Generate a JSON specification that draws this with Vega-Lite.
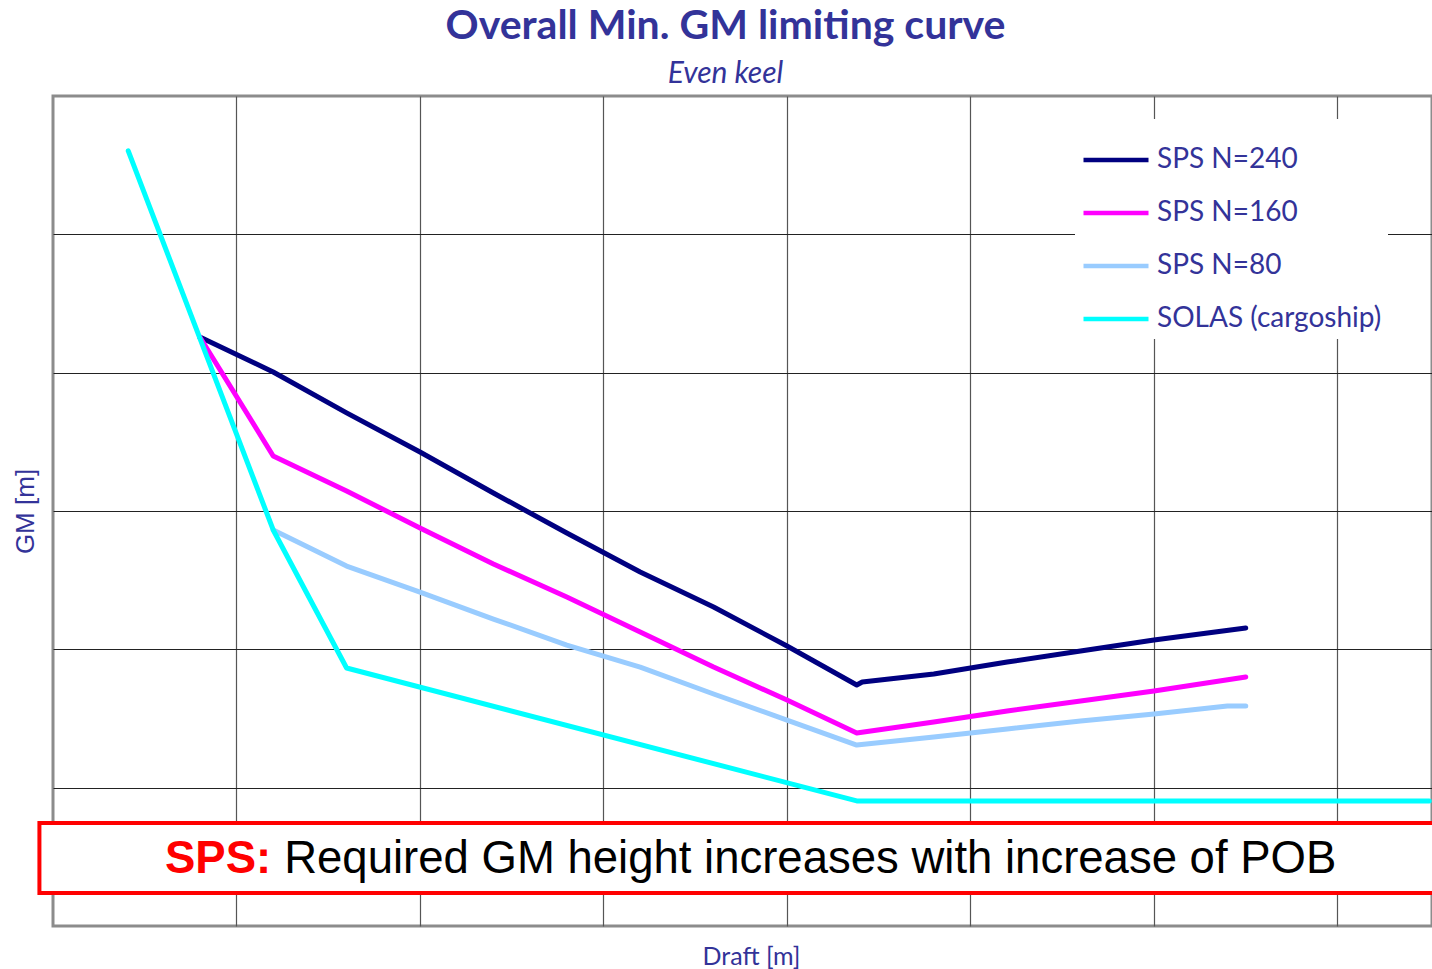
{
  "$schema": "https://vega.github.io/schema/vega-lite/v6.json",
  "width": 1379,
  "height": 830,
  "autosize": {"type": "none"},
  "padding": {"left": 53, "top": 96, "right": 0, "bottom": 43},
  "background": "white",
  "title": {
    "text": "Overall Min. GM limiting curve",
    "subtitle": "Even keel",
    "anchor": "middle",
    "dx": -17,
    "font": "Lato",
    "fontSize": 41,
    "fontWeight": "bold",
    "color": "#333399",
    "subtitleFont": "Lato",
    "subtitleFontStyle": "italic",
    "subtitleFontSize": 30,
    "subtitleColor": "#333399",
    "subtitlePadding": 11,
    "offset": 6
  },
  "config": {"view": {"stroke": "#8c8c8c", "strokeWidth": 3}},
  "layer": [
    {
      "data": {"values": [
        {"series": "SPS N=240", "draft": 0.8, "gm": 4.258},
        {"series": "SPS N=240", "draft": 1.2, "gm": 4.005},
        {"series": "SPS N=240", "draft": 1.6, "gm": 3.709},
        {"series": "SPS N=240", "draft": 2.0, "gm": 3.427},
        {"series": "SPS N=240", "draft": 2.4, "gm": 3.130},
        {"series": "SPS N=240", "draft": 2.8, "gm": 2.841},
        {"series": "SPS N=240", "draft": 3.2, "gm": 2.559},
        {"series": "SPS N=240", "draft": 3.6, "gm": 2.306},
        {"series": "SPS N=240", "draft": 4.0, "gm": 2.024},
        {"series": "SPS N=240", "draft": 4.38, "gm": 1.742},
        {"series": "SPS N=240", "draft": 4.41, "gm": 1.764},
        {"series": "SPS N=240", "draft": 4.8, "gm": 1.822},
        {"series": "SPS N=240", "draft": 5.2, "gm": 1.908},
        {"series": "SPS N=240", "draft": 5.6, "gm": 1.988},
        {"series": "SPS N=240", "draft": 6.0, "gm": 2.068},
        {"series": "SPS N=240", "draft": 6.5, "gm": 2.154},
        {"series": "SPS N=160", "draft": 0.8, "gm": 4.258},
        {"series": "SPS N=160", "draft": 1.2, "gm": 3.398},
        {"series": "SPS N=160", "draft": 1.6, "gm": 3.145},
        {"series": "SPS N=160", "draft": 2.0, "gm": 2.877},
        {"series": "SPS N=160", "draft": 2.4, "gm": 2.617},
        {"series": "SPS N=160", "draft": 2.8, "gm": 2.378},
        {"series": "SPS N=160", "draft": 3.2, "gm": 2.125},
        {"series": "SPS N=160", "draft": 3.6, "gm": 1.872},
        {"series": "SPS N=160", "draft": 4.0, "gm": 1.634},
        {"series": "SPS N=160", "draft": 4.38, "gm": 1.395},
        {"series": "SPS N=160", "draft": 4.8, "gm": 1.475},
        {"series": "SPS N=160", "draft": 5.2, "gm": 1.554},
        {"series": "SPS N=160", "draft": 5.6, "gm": 1.627},
        {"series": "SPS N=160", "draft": 6.0, "gm": 1.699},
        {"series": "SPS N=160", "draft": 6.5, "gm": 1.800},
        {"series": "SPS N=80", "draft": 1.2, "gm": 2.863},
        {"series": "SPS N=80", "draft": 1.6, "gm": 2.602},
        {"series": "SPS N=80", "draft": 2.0, "gm": 2.414},
        {"series": "SPS N=80", "draft": 2.4, "gm": 2.219},
        {"series": "SPS N=80", "draft": 2.8, "gm": 2.031},
        {"series": "SPS N=80", "draft": 3.2, "gm": 1.872},
        {"series": "SPS N=80", "draft": 3.6, "gm": 1.677},
        {"series": "SPS N=80", "draft": 4.0, "gm": 1.489},
        {"series": "SPS N=80", "draft": 4.38, "gm": 1.308},
        {"series": "SPS N=80", "draft": 4.8, "gm": 1.366},
        {"series": "SPS N=80", "draft": 5.2, "gm": 1.424},
        {"series": "SPS N=80", "draft": 5.6, "gm": 1.482},
        {"series": "SPS N=80", "draft": 6.0, "gm": 1.533},
        {"series": "SPS N=80", "draft": 6.4, "gm": 1.590},
        {"series": "SPS N=80", "draft": 6.5, "gm": 1.590},
        {"series": "SOLAS (cargoship)", "draft": 0.41, "gm": 5.603},
        {"series": "SOLAS (cargoship)", "draft": 1.2, "gm": 2.863},
        {"series": "SOLAS (cargoship)", "draft": 1.6, "gm": 1.865},
        {"series": "SOLAS (cargoship)", "draft": 4.38, "gm": 0.904},
        {"series": "SOLAS (cargoship)", "draft": 7.5, "gm": 0.904}
      ]},
      "mark": {"type": "line", "strokeWidth": 5, "strokeCap": "round", "strokeJoin": "round"},
      "encoding": {
        "x": {
          "field": "draft", "type": "quantitative",
          "scale": {"domain": [0, 7.515], "nice": false, "zero": false},
          "axis": {
            "title": "Draft [m]", "labels": false, "ticks": false, "domain": false,
            "values": [1, 2, 3, 4, 5, 6, 7], "grid": true, "gridColor": "#555555", "gridWidth": 1.2, "gridOpacity": 1,
            "titleFont": "Lato", "titleFontSize": 25, "titleFontWeight": "normal", "titleColor": "#333399",
            "titlePadding": 18, "titleX": 698
          }
        },
        "y": {
          "field": "gm", "type": "quantitative",
          "scale": {"domain": [0, 6], "nice": false, "zero": false},
          "axis": {
            "title": "GM [m]", "labels": false, "ticks": false, "domain": false,
            "values": [1, 2, 3, 4, 5], "grid": true, "gridColor": "#222222", "gridWidth": 1.2, "gridOpacity": 1,
            "titleFont": "Liberation Sans", "titleFontSize": 26, "titleFontWeight": "normal", "titleColor": "#333399",
            "titlePadding": 15
          }
        },
        "color": {
          "field": "series", "type": "nominal",
          "scale": {
            "domain": ["SPS N=240", "SPS N=160", "SPS N=80", "SOLAS (cargoship)"],
            "range": ["#000080", "#ff00ff", "#99ccff", "#00ffff"]
          },
          "legend": {
            "title": null, "orient": "none", "legendX": 1022, "legendY": 23,
            "fillColor": "white", "padding": 6,
            "symbolType": "stroke", "symbolSize": 4225, "symbolStrokeWidth": 4.5,
            "labelFont": "Lato", "labelFontSize": 28, "labelColor": "#333399", "labelOffset": 6,
            "labelLimit": 400, "rowPadding": 4
          }
        }
      }
    },
    {
      "data": {"values": [{"box": "note"}]},
      "mark": {"type": "rect", "fill": "white", "stroke": "#ff0000", "strokeWidth": 4},
      "encoding": {
        "x": {"datum": -0.074, "type": "quantitative"},
        "x2": {"datum": 7.8},
        "y": {"datum": 0.744, "type": "quantitative"},
        "y2": {"datum": 0.239}
      }
    },
    {
      "data": {"values": [{"label": "SPS:"}]},
      "mark": {"type": "text", "align": "left", "baseline": "alphabetic", "font": "Liberation Sans", "fontSize": 45.5, "fontWeight": "bold", "color": "#ff0000"},
      "encoding": {
        "x": {"datum": 0.61, "type": "quantitative"},
        "y": {"datum": 0.383, "type": "quantitative"},
        "text": {"field": "label"}
      }
    },
    {
      "data": {"values": [{"label": "Required GM height increases with increase of POB"}]},
      "mark": {"type": "text", "align": "left", "baseline": "alphabetic", "font": "Liberation Sans", "fontSize": 45.5, "fontWeight": "normal", "color": "#000000"},
      "encoding": {
        "x": {"datum": 1.26, "type": "quantitative"},
        "y": {"datum": 0.383, "type": "quantitative"},
        "text": {"field": "label"}
      }
    }
  ]
}
